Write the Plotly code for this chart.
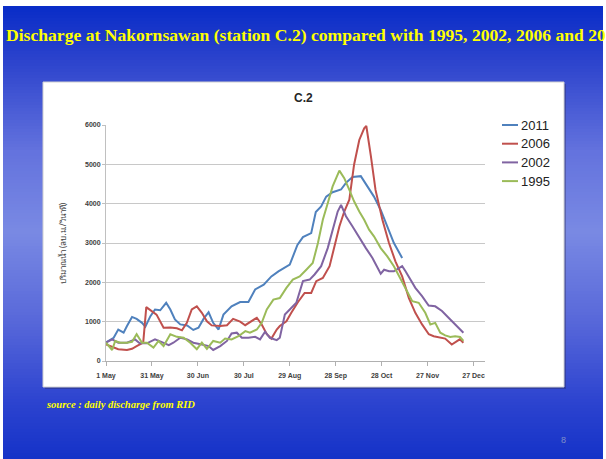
import pandas as pd
import plotly.graph_objects as go

# daily discharge at C.2 (days after 1 May, m3/s)
start = pd.Timestamp("2011-05-01")

days_2011 = [0, 5, 8, 11.5, 13.7, 17, 20, 23.5, 25.7, 29, 32, 35.4, 39.3, 42, 45, 48.5, 53, 57, 60.4, 63.7,
             67, 70, 73.5, 76.7, 82, 87.6, 93, 97.4, 103, 108, 112.6, 120, 125, 128.6, 134, 137, 140.5, 143.8,
             148, 153.5, 156.7, 161, 166.4, 170.8, 175, 179.4, 183.7, 188, 193.4]
q_2011 = [470, 590, 800, 720, 890, 1120, 1070, 970, 870, 1140, 1310, 1290, 1480, 1310, 1055, 930, 905, 790, 845, 1070,
          1240, 970, 800, 1180, 1390, 1500, 1500, 1820, 1940, 2150, 2280, 2450, 2950, 3150, 3250, 3790, 3930, 4180,
          4290, 4360, 4530, 4680, 4700, 4440, 4180, 3840, 3420, 3000, 2620]

days_2006 = [0, 4, 8, 13.7, 17, 20, 22.2, 24.3, 26.3, 30, 33, 37.6, 42, 46.3, 49.6, 52.8, 56, 59.3, 62.6,
             65.9, 69, 74.6, 79, 83, 87.6, 90.9, 95, 98.5, 101.7, 105, 108, 111.5, 113.5, 117.8, 121, 125.4,
             129.7, 134, 137.3, 141.6, 146, 149, 152.4, 155.6, 158.9, 162, 165.4, 168.6, 170, 173, 176, 180.5,
             184.8, 189, 193.4, 197.8, 202, 206.4, 210.8, 214, 218.3, 221.5, 225.8, 229, 231, 233.4]
q_2006 = [420, 360, 300, 280, 310, 380, 420, 465, 1370, 1270, 1180, 845, 850, 830, 780, 970, 1310, 1390, 1225,
          1010, 905, 890, 910, 1070, 1000, 910, 1010, 1100, 930, 680, 570, 800, 890, 1010, 1225, 1500,
          1730, 1730, 2030, 2110, 2410, 2870, 3420, 3800, 4100, 4990, 5620, 5915, 5975, 5200, 4350, 3590,
          3000, 2535, 2150, 1600, 1225, 930, 680, 630, 590, 570, 420, 510, 550, 465]

days_2002 = [0, 4, 8, 13.7, 19, 22, 26.7, 32, 36.5, 41, 44, 48.5, 53, 57, 62.6, 67, 70, 74.6, 79, 82,
             85.4, 88.7, 93, 97.4, 100.6, 103.9, 107, 111.5, 113.5, 116.8, 120, 124.3, 128.6, 133, 136.2, 140.5,
             144.8, 148, 151.3, 153.5, 156.7, 161, 165.4, 169.7, 174, 177.2, 179.4, 181.6, 184.8, 188,
             191.3, 193.4, 195.6, 198.8, 202, 206.4, 210.7, 215, 219.4, 223.7, 228, 233.4]
q_2002 = [465, 550, 465, 465, 550, 450, 450, 550, 480, 405, 465, 590, 550, 465, 420, 380, 280, 380, 510, 700,
          720, 590, 590, 615, 550, 745, 590, 530, 590, 1180, 1310, 1480, 2030, 2070, 2200, 2410,
          2870, 3340, 3800, 3970, 3680, 3420, 3130, 2870, 2620, 2370, 2220, 2320, 2280, 2280,
          2370, 2410, 2280, 2070, 1860, 1650, 1410, 1390, 1270, 1100, 930, 720]

days_1995 = [0, 1.7, 4, 6, 9.3, 13.7, 17, 20, 23.5, 26.7, 31, 34.3, 37.6, 42, 46.3, 50.7, 55, 59.3, 62.6, 65.9,
             70, 74.6, 77.8, 82, 86.5, 91, 94, 98.5, 101.7, 105, 109.3, 113.5, 117.8, 122, 126.5, 130.8, 135,
             138.4, 141.6, 144.8, 148, 152.4, 155.6, 158.9, 162, 165.4, 168.6, 171.8, 175, 179.4,
             183.7, 188, 192.4, 195.6, 200, 204.2, 208.5, 211.8, 215, 218.3, 221.5, 224.8, 228, 231.2, 233.4]
q_1995 = [465, 380, 280, 510, 465, 465, 490, 680, 465, 465, 340, 510, 380, 680, 615, 590, 465, 300, 465, 310,
          510, 465, 570, 550, 630, 760, 720, 800, 970, 1310, 1560, 1600, 1860, 2070, 2150, 2320, 2490,
          3000, 3590, 4010, 4440, 4840, 4650, 4350, 4060, 3800, 3590, 3340, 3170, 2870,
          2660, 2410, 2070, 1860, 1520, 1480, 1225, 930, 970, 720, 650, 610, 630, 610, 510]

series = [
    ("2011", days_2011, q_2011, "#4F81BD"),
    ("2006", days_2006, q_2006, "#C0504D"),
    ("2002", days_2002, q_2002, "#8064A2"),
    ("1995", days_1995, q_1995, "#9BBB59"),
]

W, H = 606, 459
L, R, T, B = 106, 121, 125, 98


def px(x):
    return (x - L) / (W - L - R)


def py(y):
    return (H - B - y) / (H - T - B)


fig = go.Figure()
for name, d, q, color in series:
    fig.add_trace(go.Scatter(
        x=[start + pd.Timedelta(days=v) for v in d],
        y=q,
        mode="lines",
        name=name,
        line=dict(color=color, width=2),
    ))

# slide background: vertical blue gradient made of thin strips
stops = [(6, (10, 45, 200)), (60, (45, 68, 205)), (150, (100, 115, 222)), (230, (122, 138, 228)),
         (320, (88, 104, 218)), (400, (45, 68, 208)), (460, (20, 50, 200))]
shapes = []
for y0 in range(6, 460, 3):
    for (a, ca), (b, cb) in zip(stops, stops[1:]):
        if a <= y0 <= b:
            t = (y0 - a) / (b - a)
            c = tuple(int(ca[i] + (cb[i] - ca[i]) * t) for i in range(3))
            break
    shapes.append(dict(type="rect", xref="paper", yref="paper", layer="below",
                       x0=px(3), x1=px(603), y0=py(min(y0 + 3.5, 460)), y1=py(y0),
                       fillcolor="rgb(%d,%d,%d)" % c, line=dict(width=0)))

# chart box
shapes.append(dict(type="rect", xref="paper", yref="paper", layer="below",
                   x0=px(45), x1=px(566), y0=py(389), y1=py(84),
                   fillcolor="rgba(40,40,80,0.35)", line=dict(width=0)))
shapes.append(dict(type="rect", xref="paper", yref="paper", layer="below",
                   x0=px(43), x1=px(564), y0=py(387), y1=py(82),
                   fillcolor="white", line=dict(color="#d0d0d0", width=1)))

annotations = [
    dict(text="Discharge at Nakornsawan (station C.2) compared with 1995, 2002, 2006 and 2011",
         x=px(4), y=py(35), xanchor="left", yanchor="middle",
         font=dict(family="Liberation Serif", size=17.6, color="#ffff00", weight="bold")),
    dict(text="C.2", x=px(303), y=py(98), xanchor="center", yanchor="middle",
         font=dict(family="Liberation Sans", size=12, color="#262626", weight="bold")),
    dict(text="ปริมาณน้ำ (ลบ.ม./วินาที)", x=px(62), y=py(243), textangle=-90,
         xanchor="center", yanchor="middle",
         font=dict(family="Noto Sans, DejaVu Sans", size=8, color="#404040")),
    dict(text="<i>source : daily discharge from RID</i>", x=px(44), y=py(404), xanchor="left", yanchor="middle",
         font=dict(family="Liberation Serif", size=10.5, color="#ffff00", weight="bold")),
    dict(text="8", x=px(563), y=py(440), xanchor="center", yanchor="middle",
         font=dict(family="Liberation Sans", size=9, color="#8090c8")),
]

# legend drawn by hand so the short swatches match
for i, (name, d, q, color) in enumerate(series):
    yy = 125 + 18.7 * i
    shapes.append(dict(type="line", xref="paper", yref="paper", x0=px(502), x1=px(518),
                       y0=py(yy), y1=py(yy), line=dict(color=color, width=2)))
    annotations.append(dict(text=name, x=px(519), y=py(yy), xanchor="left", yanchor="middle",
                            font=dict(family="Liberation Sans", size=13, color="#222222")))

for a in annotations:
    a.update(xref="paper", yref="paper", showarrow=False)

fig.update_layout(
    width=W, height=H,
    margin=dict(l=L, r=R, t=T, b=B),
    paper_bgcolor="white",
    plot_bgcolor="rgba(0,0,0,0)",
    showlegend=False,
    shapes=shapes,
    annotations=annotations,
    xaxis=dict(
        type="date",
        range=[start, start + pd.Timedelta(days=247.5)],
        tick0=start, dtick=30 * 86400000, tickformat="%-d %b",
        showgrid=False, showline=True, linecolor="#b0b0b0", linewidth=1,
        ticks="outside", ticklen=4, tickcolor="#b0b0b0", ticklabelstandoff=4,
        tickfont=dict(family="Liberation Sans", size=7, color="#404040", weight="bold"),
    ),
    yaxis=dict(
        range=[0, 6000], dtick=1000,
        showgrid=True, gridcolor="#c8c8c8", gridwidth=1, zeroline=False,
        showline=True, linecolor="#c0c0c0", linewidth=1,
        ticks="outside", ticklen=3, tickcolor="#c0c0c0",
        tickfont=dict(family="Liberation Sans", size=7, color="#404040", weight="bold"),
    ),
)

# drop the page's default body margin so the figure sits at the window's corner
fig.write_html("out.html", config={"displayModeBar": False},
               post_script="document.body.style.margin='0';")
